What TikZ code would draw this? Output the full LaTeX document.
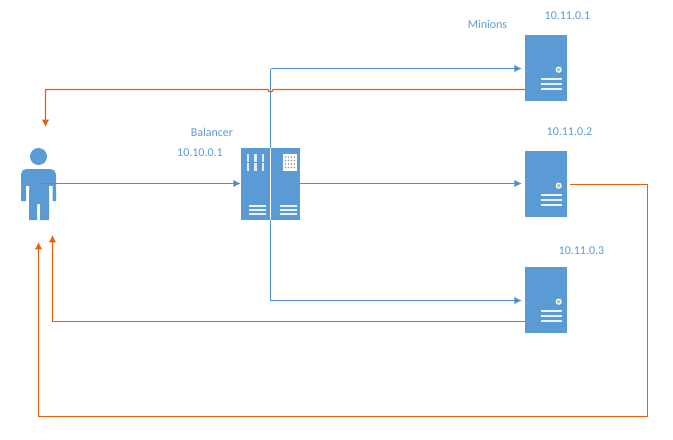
\documentclass[tikz,border=0pt]{standalone}
\usepackage{fontspec}
\setmainfont{Carlito}
\usetikzlibrary{arrows.meta}
\definecolor{srv}{HTML}{5B9BD5}
\definecolor{wire}{HTML}{4F8FCB}
\definecolor{ret}{HTML}{E65F0C}
\definecolor{led}{HTML}{A9D18E}
\tikzset{
  x=0.75pt,y=-0.75pt,
  lbl/.style={text=srv,font=\fontsize{9}{11}\selectfont,inner sep=0pt},
  unit/.style={fill=srv,draw=none,inner sep=0pt,minimum width=31.5pt,minimum height=49.5pt},
  rack/.style={fill=srv,draw=none,inner sep=0pt,minimum width=44.25pt,minimum height=54pt},
  who/.style={inner sep=0pt,minimum width=26.25pt,minimum height=54pt},
  link/.style={wire,line width=0.8pt,-{Latex[length=5.5pt,width=5.5pt]}},
  back/.style={ret,line width=0.85pt,-{Latex[length=5.5pt,width=5.5pt]}},
  trim/.style={white!88!srv,line width=1.45pt}
}
% One tower server: body, status lamp and three drive bars
\newcommand{\towerserver}[2]{%
  \node[unit] (#1) at (546,#2) {};
  \fill[led,draw=white,line width=0.8pt] (558.7,#2+1.7) circle (1.9pt);
  \foreach \d in {11,16,21}
    \draw[trim] (540.5,#2+\d) -- (561.5,#2+\d);
}
\begin{document}
\begin{tikzpicture}
\useasboundingbox (0,0) rectangle (673,439);

% Client figure
\node[who] (client) at (38.5,184) {};
\fill[srv] (38.5,156.5) circle (6.4pt);
\fill[srv,rounded corners=4pt] (21,190) -- (21,169) -- (56,169) -- (56,190) -- cycle;
\fill[srv] (21,186) rectangle (26,201) (52.5,186) rectangle (56,201)
  (29,186) rectangle (49,204) (29,204) rectangle (37,220) (40,204) rectangle (49,220);
\fill[white] (26,186) rectangle (29,191) (49,186) rectangle (52.5,191);

% Balancer cabinet
\node[rack] (bal) at (270.5,184) {};
\foreach \sx in {246.5,254,261.5}
  \foreach \sy in {154,163}
    \fill[white!80!srv] (\sx,\sy) rectangle ++(2.6,7.5);
\foreach \ly in {206,210,214} {
  \draw[trim] (249,\ly) -- (266,\ly);
  \draw[trim] (280,\ly) -- (297,\ly);
}
\fill[white] (283,154) rectangle (297,171);
\foreach \gx in {285.5,288.5,291.5,294.5}
  \foreach \gy in {157,160.5,164,167.5}
    \fill[gray!80] (\gx,\gy) circle (0.7pt);
\draw[white,line width=0.9pt] (270.5,148) -- (270.5,220);

% Minion servers
\towerserver{sa}{68}
\towerserver{sb}{184}
\towerserver{sc}{300}

% Labels
\node[lbl] (tminions) at (487.5,24) {Minions};
\node[lbl] (tone) at (567.5,16) {10.11.0.1};
\node[lbl] (ttwo) at (569.5,132) {10.11.0.2};
\node[lbl] (tthree) at (581.5,251) {10.11.0.3};
\node[lbl] (tbal) at (212,132) {Balancer};
\node[lbl] (tvip) at (200,153) {10.10.0.1};

% Request paths
\coordinate (lane) at (0,183.5);
\coordinate (bup) at (270.5,68.5);
\coordinate (bdown) at (270.5,300.5);
\draw[link] (client |- lane) -- (bal.west |- lane);
\draw[link,shorten >=2.25pt] (bal.east |- lane) -- (sb.west |- lane);
\draw[link,shorten >=2.25pt] (bup) -- (sa.west |- bup);
\draw[link,shorten >=2.25pt] (bdown) -- (sc.west |- bdown);
\draw[wire,line width=0.8pt] (bup) -- (bal.north -| bup);
\draw[wire,line width=0.8pt] (bal.south -| bdown) -- (bdown);

% Reply paths
\coordinate (raout) at (525,89.5);
\coordinate (raend) at (45.5,127);
\coordinate (rbout) at (570,184.5);
\coordinate (rbend) at (38.5,242);
\coordinate (rcout) at (525,321.5);
\coordinate (rcend) at (52.5,235);
\draw[back] (raout) -- (273,89.5) arc (0:180:2.5) -- (45.5,89.5) -- (raend);
\draw[back] (rbout) -- (647.5,184.5) -- (647.5,416.5) -- (38.5,416.5) -- (rbend);
\draw[back] (rcout) -- (52.5,321.5) -- (rcend);
\end{tikzpicture}
\end{document}
